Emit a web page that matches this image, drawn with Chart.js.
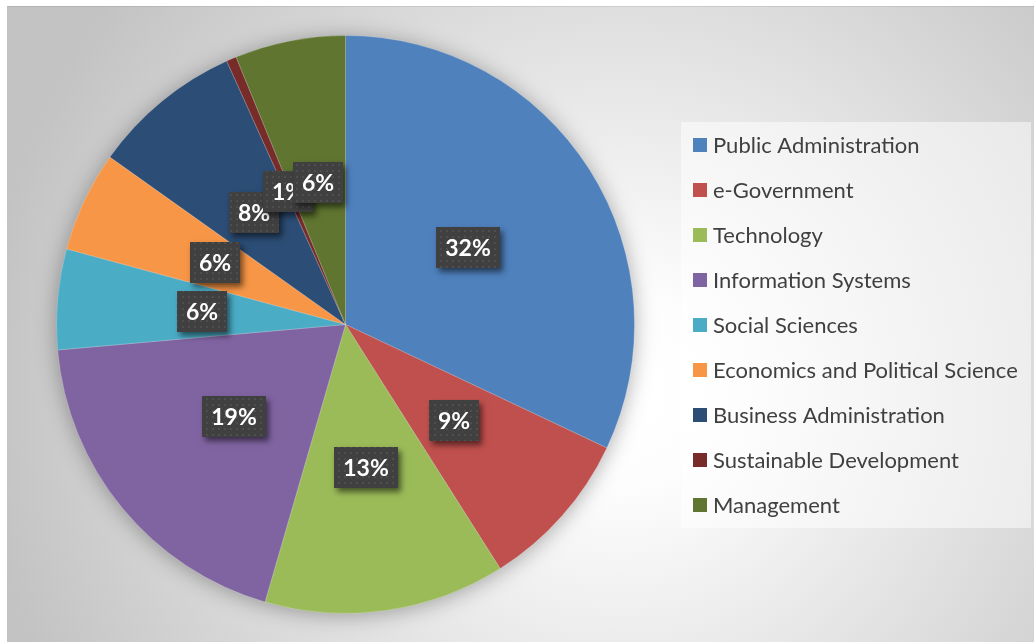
<!DOCTYPE html>
<html>
<head>
<meta charset="utf-8">
<script src="https://cdn.jsdelivr.net/npm/chart.js@4"></script>
<style>
  html, body { margin: 0; padding: 0; background: #ffffff; }
  #wrap { position: relative; width: 1034px; height: 642px; }
  canvas { display: block; }
</style>
</head>
<body>
<div id="wrap"><canvas id="c" width="1034" height="642"></canvas></div>
<script>
// ---- data ----
const categories = [
  "Public Administration",
  "e-Government",
  "Technology",
  "Information Systems",
  "Social Sciences",
  "Economics and Political Science",
  "Business Administration",
  "Sustainable Development",
  "Management"
];
const counts = [57, 16, 24, 34, 10, 10, 15, 1, 11];
const sliceColors = [
  "#4F81BD", "#C0504D", "#9BBB59", "#8064A2", "#4BACC6",
  "#F79646", "#2C4D75", "#772C2A", "#5F7530"
];

const total = counts.reduce((a, b) => a + b, 0);
const percentLabels = counts.map(v => Math.round(v / total * 100) + "%");

// dotted pattern for label boxes
function makePattern(ctx) {
  const p = document.createElement("canvas");
  p.width = 6; p.height = 6;
  const pc = p.getContext("2d");
  pc.fillStyle = "#404040";
  pc.fillRect(0, 0, 6, 6);
  pc.fillStyle = "#4e4e4e";
  pc.fillRect(2, 2, 2, 2);
  return ctx.createPattern(p, "repeat");
}

const backgroundPlugin = {
  id: "bg",
  beforeDraw(chart) {
    const ctx = chart.ctx;
    ctx.save();
    ctx.fillStyle = "#ffffff";
    ctx.fillRect(0, 0, chart.width, chart.height);
    const g = ctx.createRadialGradient(620, 390, 20, 620, 390, 640);
    g.addColorStop(0, "#ffffff");
    g.addColorStop(0.12, "#fdfdfd");
    g.addColorStop(1, "#c3c3c3");
    ctx.fillStyle = g;
    ctx.fillRect(7, 6, chart.width - 7, chart.height - 6);
    ctx.fillStyle = "rgba(0,0,0,0.08)";
    ctx.fillRect(7, 6, chart.width - 7, 1);
    ctx.restore();
  },
  beforeDatasetsDraw(chart) {
    const arc = chart.getDatasetMeta(0).data[0];
    if (!arc) return;
    const ctx = chart.ctx;
    ctx.save();
    ctx.shadowColor = "rgba(0,0,0,0.35)";
    ctx.shadowBlur = 22;
    ctx.shadowOffsetX = 0;
    ctx.shadowOffsetY = 2;
    ctx.fillStyle = "#888888";
    ctx.beginPath();
    ctx.arc(arc.x, arc.y, arc.outerRadius - 1, 0, Math.PI * 2);
    ctx.fill();
    ctx.restore();
  }
};

const labelPlugin = {
  id: "boxLabels",
  afterDatasetsDraw(chart) {
    const ctx = chart.ctx;
    const meta = chart.getDatasetMeta(0);
    const pattern = makePattern(ctx);
    ctx.save();
    ctx.font = "bold 23px Lato";
    ctx.textAlign = "center";
    ctx.textBaseline = "middle";
    meta.data.forEach((el, i) => {
      const pos = el.tooltipPosition();
      const txt = percentLabels[i];
      const tw = ctx.measureText(txt).width;
      const w = Math.round(tw + 18);
      const h = 41;
      const x = Math.round(pos.x - w / 2);
      const y = Math.round(pos.y - h / 2);
      ctx.save();
      ctx.shadowColor = "rgba(0,0,0,0.55)";
      ctx.shadowBlur = 6;
      ctx.shadowOffsetX = 3;
      ctx.shadowOffsetY = 4;
      ctx.fillStyle = "#404040";
      ctx.fillRect(x, y, w, h);
      ctx.restore();
      ctx.fillStyle = pattern;
      ctx.fillRect(x, y, w, h);
      ctx.fillStyle = "#ffffff";
      ctx.fillText(txt, x + w / 2, y + h / 2 + 1);
    });
    ctx.restore();
  }
};

const legendPlugin = {
  id: "sideLegend",
  afterDraw(chart) {
    const ctx = chart.ctx;
    ctx.save();
    ctx.fillStyle = "rgba(255,255,255,0.5)";
    ctx.fillRect(681, 122, 350, 406);
    ctx.font = "22px Lato";
    ctx.textAlign = "left";
    ctx.textBaseline = "middle";
    chart.data.labels.forEach((lab, i) => {
      const cy = 145 + i * 45;
      ctx.fillStyle = chart.data.datasets[0].backgroundColor[i];
      ctx.fillRect(693, cy - 7, 14, 14);
      ctx.fillStyle = "#404040";
      ctx.fillText(lab, 713, cy + 1);
    });
    ctx.restore();
  }
};

new Chart(document.getElementById("c"), {
  type: "pie",
  data: {
    labels: categories,
    datasets: [{
      data: counts,
      backgroundColor: sliceColors,
      borderColor: "rgba(255,255,255,0.2)",
      borderWidth: 1
    }]
  },
  options: {
    responsive: false,
    animation: false,
    devicePixelRatio: 1,
    layout: { padding: { left: 56, top: 35, right: 399, bottom: 28 } },
    plugins: {
      legend: { display: false },
      tooltip: { enabled: false }
    }
  },
  plugins: [backgroundPlugin, labelPlugin, legendPlugin]
});
</script>
</body>
</html>
